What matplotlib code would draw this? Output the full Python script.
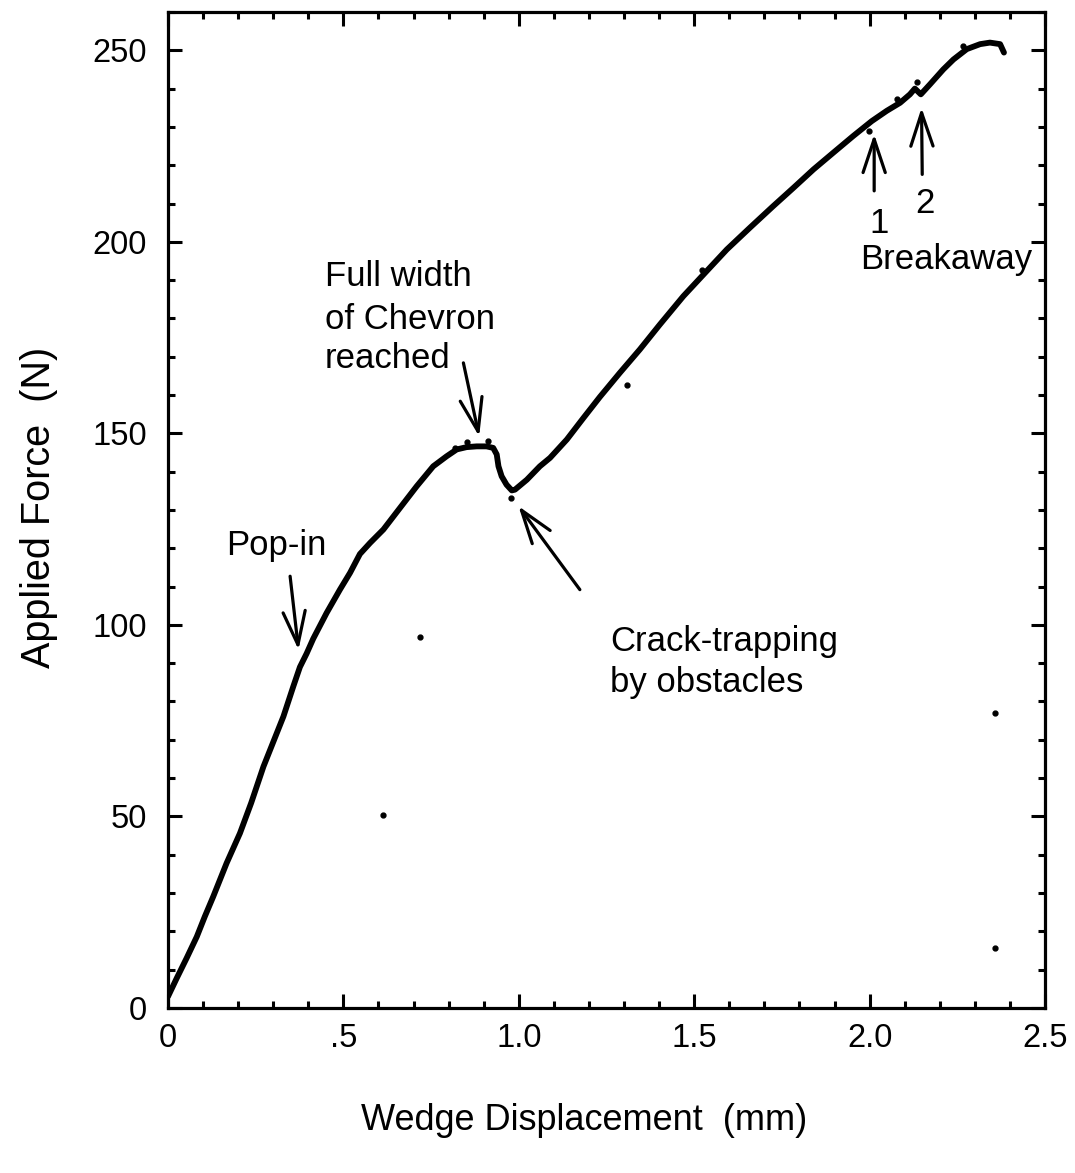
import numpy as np
import matplotlib
matplotlib.use("Agg")
import matplotlib.pyplot as plt
from matplotlib.ticker import MultipleLocator

plt.rcParams['font.family'] = ['Liberation Sans', 'DejaVu Sans']

# wedge displacement (mm) vs applied force (N)
disp = [0.000, 0.025, 0.053, 0.082, 0.105, 0.129, 0.167, 0.205, 0.237, 0.272,
        0.329, 0.357, 0.376, 0.395, 0.414, 0.452, 0.490, 0.519, 0.547, 0.576,
        0.614, 0.661, 0.709, 0.756, 0.794, 0.823, 0.851, 0.880, 0.908, 0.927,
        0.937, 0.942, 0.951, 0.965, 0.980, 0.989, 1.023, 1.060, 1.089, 1.137,
        1.184, 1.231, 1.288, 1.345, 1.402, 1.469, 1.536, 1.593, 1.659, 1.725,
        1.783, 1.840, 1.897, 1.953, 2.006, 2.049, 2.087, 2.115, 2.129, 2.146,
        2.172, 2.210, 2.239, 2.277, 2.315, 2.343, 2.372, 2.383]
force = [3.0, 7.8, 13.0, 18.6, 23.9, 29.1, 37.8, 45.6, 53.5, 63.0,
         76.1, 83.9, 89.0, 92.5, 96.4, 103.1, 109.2, 113.6, 118.5, 121.4,
         124.9, 130.5, 136.2, 141.4, 144.0, 145.8, 146.4, 146.6, 146.6, 146.2,
         144.5, 141.4, 138.8, 136.6, 135.1, 135.3, 137.9, 141.4, 143.6, 148.4,
         154.0, 159.5, 165.8, 171.9, 178.4, 185.8, 192.4, 198.0, 203.7, 209.3,
         214.1, 218.9, 223.3, 227.6, 231.5, 234.2, 236.3, 238.5, 240.0, 238.5,
         241.1, 245.0, 247.6, 250.3, 251.6, 252.0, 251.6, 249.4]

# stray data points
dot_x = [0.718, 0.613, 2.357, 2.357, 0.818, 0.851, 0.913, 0.978, 1.307, 1.523,
         2.267, 2.134, 2.077, 1.998]
dot_y = [96.9, 50.4, 77.1, 15.7, 146.2, 147.7, 147.9, 133.2, 162.5, 192.6,
         251.1, 241.6, 237.2, 228.9]

xticks = [0, 0.5, 1.0, 1.5, 2.0, 2.5]
xtick_labels = ['0', '.5', '1.0', '1.5', '2.0', '2.5']
yticks = [0, 50, 100, 150, 200, 250]

fig = plt.figure(figsize=(10.75, 11.73), dpi=100)
ax = fig.add_axes([0.1563, 0.1407, 0.8158, 0.8491])

ax.plot(disp, force, color='black', lw=4.2, solid_capstyle='round', solid_joinstyle='round')
ax.plot(dot_x, dot_y, 'o', color='black', ms=3.5, ls='none')

ax.set_xlim(0, 2.5)
ax.set_ylim(0, 260)
ax.set_xticks(xticks)
ax.set_xticklabels(xtick_labels)
ax.set_yticks(yticks)
ax.xaxis.set_minor_locator(MultipleLocator(0.1))
ax.yaxis.set_minor_locator(MultipleLocator(10))
ax.tick_params(which='both', direction='in', top=True, right=True, width=2.2, labelsize=23.5)
ax.tick_params(axis='x', which='major', length=10, pad=11)
ax.tick_params(axis='y', which='major', length=10, pad=15)
ax.tick_params(which='minor', length=5)
for s in ax.spines.values():
    s.set_linewidth(2.3)

ax.set_xlabel('Wedge Displacement  (mm)', fontsize=26)
ax.set_ylabel('Applied Force  (N)', fontsize=28.5)
ax.xaxis.set_label_coords(0.474, -0.095)
ax.yaxis.set_label_coords(-0.126, 0.503)

arrow = dict(arrowstyle='->,head_length=1.2,head_width=0.4', lw=2.3, color='black',
             mutation_scale=20, shrinkA=0, shrinkB=0)

fs = 25
ax.text(0.31, 118.3, 'Pop-in', fontsize=fs, ha='center', va='baseline')
ax.annotate('', xy=(0.372, 93.5), xytext=(0.348, 112.7), arrowprops=arrow)

ax.text(0.4476, 188.5, 'Full width', fontsize=fs, ha='left', va='baseline')
ax.text(0.4476, 177.3, 'of Chevron', fontsize=fs, ha='left', va='baseline')
ax.text(0.4476, 167.1, 'reached', fontsize=fs, ha='left', va='baseline')
ax.annotate('', xy=(0.887, 149.2), xytext=(0.842, 168.4), arrowprops=arrow)

ax.text(1.26, 93.3, 'Crack-trapping', fontsize=fs, ha='left', va='baseline')
ax.text(1.26, 82.6, 'by obstacles', fontsize=fs, ha='left', va='baseline')
ax.annotate('', xy=(0.999, 131.0), xytext=(1.174, 109.2), arrowprops=arrow)

ax.annotate('', xy=(2.013, 228.1), xytext=(2.013, 213.3), arrowprops=arrow)
ax.text(2.027, 202.4, '1', fontsize=fs, ha='center', va='baseline')
ax.annotate('', xy=(2.148, 235.0), xytext=(2.150, 217.6), arrowprops=arrow)
ax.text(2.158, 207.6, '2', fontsize=fs, ha='center', va='baseline')
ax.text(1.973, 192.8, 'Breakaway', fontsize=fs, ha='left', va='baseline')

fig.savefig('out.png', dpi=100)
